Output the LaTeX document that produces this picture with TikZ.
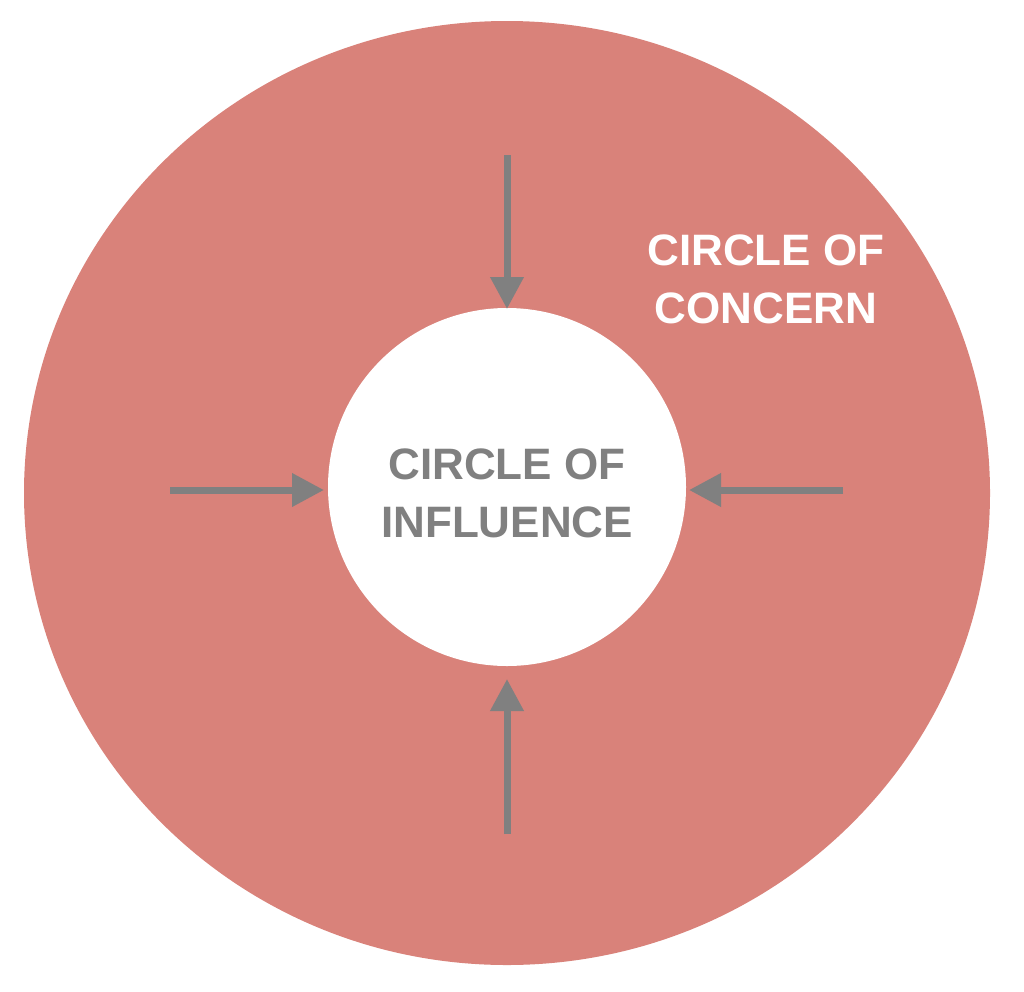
\documentclass[tikz,border=0pt]{standalone}
\usepackage{fontspec}
\setmainfont{Liberation Sans}
\usetikzlibrary{arrows.meta}
\definecolor{concern}{HTML}{D9827A}
\definecolor{arr}{HTML}{808080}
\begin{document}
\begin{tikzpicture}[x=1pt,y=-1pt,
  ar/.style={draw=arr,line width=7pt,-{Triangle[length=32pt,width=32pt]}},
  lbl/.style={font=\bfseries\fontsize{44}{58}\selectfont,align=center}]
\useasboundingbox (0,0) rectangle (1024,991);
\fill[concern] (507,493) ellipse [x radius=483, y radius=472];
\node[circle,fill=white,minimum size=358pt,inner sep=0pt] (inf) at (507,487) {};
\node[lbl,text=arr] (t1) at (507,493) {CIRCLE OF\\INFLUENCE};
\node[lbl,text=white] (t2) at (766,279) {CIRCLE OF\\CONCERN};
\coordinate (a1) at (507,155);
\coordinate (a2) at (170,490);
\coordinate (a3) at (843,490);
\coordinate (a4) at (507,834);
\draw[ar] (a1) -- (507,309);
\draw[ar] (a2) -- (324,490);
\draw[ar] (a3) -- (689,490);
\draw[ar] (a4) -- (507,679);
\end{tikzpicture}
\end{document}
